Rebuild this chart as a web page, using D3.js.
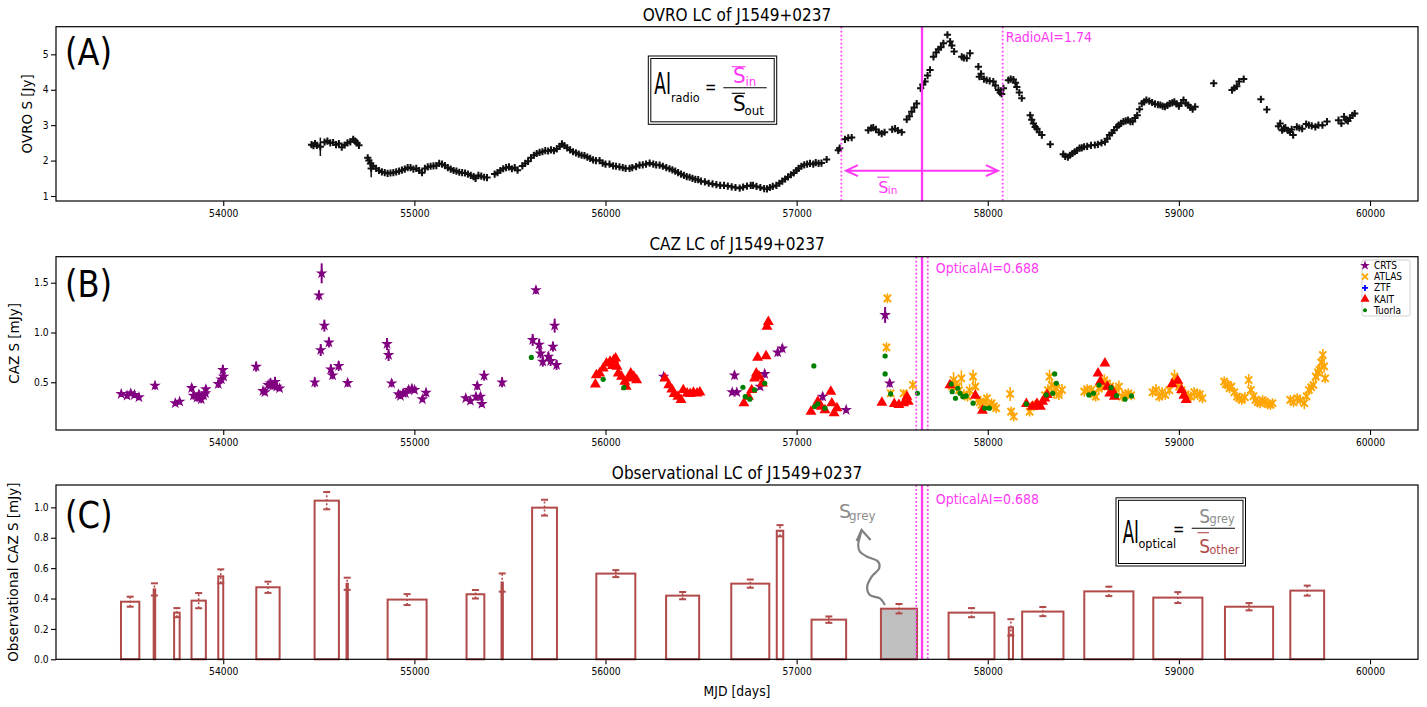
<!DOCTYPE html>
<html>
<head>
<meta charset="utf-8">
<script src="https://cdn.jsdelivr.net/npm/d3@7"></script>
<style>
  body { margin: 0; background: #fff; }
  text { font-family: "DejaVu Sans", sans-serif; }
</style>
</head>
<body>
<svg id="fig" width="1427" height="707"></svg>
<script>
// ---- data ----
// OVRO 15 GHz light curve: [MJD, S (Jy), err]
const ovro = [
 [54462,2.45,.05],[54472,2.42,.05],[54480,2.48,.05],[54490,2.43,.05],[54508,2.39,.26],[54530,2.52,.05],[54545,2.55,.05],[54560,2.5,.05],
 [54575,2.51,.05],[54590,2.45,.05],[54605,2.48,.05],[54620,2.38,.05],[54635,2.44,.05],[54650,2.5,.05],[54665,2.53,.05],[54680,2.6,.06],
 [54690,2.55,.05],[54700,2.5,.05],[54710,2.43,.05],
 [54756,2.08,.05],[54762,2.0,.05],[54770,1.92,.05],[54774,1.78,.25],[54785,1.85,.05],[54800,1.78,.05],[54815,1.72,.05],[54830,1.68,.05],
 [54845,1.66,.05],[54860,1.64,.05],[54875,1.65,.05],[54890,1.66,.05],[54905,1.68,.05],[54920,1.7,.05],[54935,1.73,.05],[54950,1.76,.05],
 [54965,1.8,.05],[54980,1.8,.05],[54995,1.76,.05],[55010,1.78,.05],[55025,1.72,.05],[55040,1.66,.06],[55055,1.78,.05],[55070,1.82,.05],
 [55085,1.84,.05],[55100,1.85,.05],[55115,1.86,.05],[55130,1.92,.05],[55145,1.9,.05],[55160,1.86,.05],[55175,1.8,.05],[55190,1.76,.05],
 [55205,1.72,.05],[55220,1.7,.05],[55235,1.67,.05],[55250,1.66,.05],[55265,1.65,.05],[55280,1.62,.05],[55295,1.58,.05],[55310,1.55,.05],
 [55320,1.5,.08],[55335,1.58,.05],[55350,1.56,.05],[55365,1.53,.05],[55380,1.52,.05],
 [55420,1.62,.05],[55435,1.66,.05],[55450,1.72,.05],[55465,1.77,.05],[55480,1.8,.05],[55495,1.82,.05],[55510,1.77,.05],[55525,1.8,.05],[55540,1.73,.05],
 [55565,1.85,.05],[55580,1.92,.05],[55595,1.98,.05],[55610,2.08,.05],[55625,2.15,.05],[55640,2.2,.05],[55655,2.23,.05],[55670,2.25,.05],
 [55685,2.28,.05],[55700,2.27,.05],[55715,2.3,.05],[55730,2.28,.05],[55745,2.33,.05],[55760,2.4,.05],[55772,2.47,.05],[55785,2.42,.05],
 [55800,2.36,.05],[55815,2.3,.05],[55830,2.25,.05],[55845,2.22,.05],[55860,2.18,.05],[55875,2.15,.05],[55890,2.14,.05],[55905,2.1,.05],
 [55920,2.06,.05],[55935,2.02,.05],[55950,2.0,.05],[55969,2.0,.05],[55985,1.93,.05],[56000,1.9,.05],[56021,1.9,.05],[56040,1.85,.05],
 [56055,1.84,.05],[56073,1.82,.05],[56090,1.8,.05],[56105,1.78,.05],[56126,1.78,.05],[56140,1.8,.05],[56160,1.83,.05],[56178,1.87,.05],
 [56195,1.88,.05],[56212,1.9,.05],[56231,1.93,.05],[56250,1.9,.05],[56265,1.88,.05],[56283,1.87,.05],[56300,1.84,.05],[56318,1.8,.05],
 [56335,1.77,.05],[56350,1.74,.05],[56365,1.7,.05],[56380,1.66,.05],[56395,1.62,.05],[56410,1.58,.05],[56425,1.55,.05],[56440,1.53,.05],
 [56455,1.5,.05],[56470,1.47,.05],[56485,1.46,.05],[56500,1.42,.05],[56520,1.4,.05],[56540,1.36,.05],[56560,1.34,.05],[56580,1.32,.05],
 [56600,1.3,.05],[56620,1.3,.05],[56640,1.28,.05],[56660,1.26,.05],[56680,1.24,.05],[56702,1.22,.05],[56720,1.25,.05],[56740,1.28,.05],
 [56760,1.3,.05],[56772,1.3,.05],[56790,1.27,.05],[56810,1.24,.05],[56830,1.21,.05],[56845,1.2,.05],[56860,1.24,.05],[56875,1.27,.05],
 [56894,1.3,.05],[56910,1.36,.05],[56925,1.42,.05],[56940,1.48,.05],[56955,1.54,.05],[56970,1.6,.05],[56985,1.65,.05],[56999,1.72,.05],
 [57010,1.78,.05],[57025,1.84,.05],[57040,1.88,.05],[57055,1.9,.05],[57070,1.92,.05],[57087,1.9,.05],[57100,1.94,.05],[57115,1.92,.05],
 [57130,1.93,.05],[57157,2.03,.05],[57218,2.29,.05],[57225,2.35,.05],[57253,2.6,.05],[57270,2.64,.05],[57288,2.65,.05],
 [57375,2.86,.05],[57390,2.92,.05],[57401,2.93,.05],[57415,2.88,.05],[57430,2.8,.05],[57445,2.76,.05],[57460,2.8,.05],
 [57500,2.88,.05],[57515,2.9,.05],[57530,2.85,.05],[57550,2.8,.05],[57576,3.16,.05],[57590,3.25,.05],[57602,3.38,.05],[57615,3.5,.05],
 [57628,3.61,.05],[57649,4.04,.05],[57660,4.15,.05],[57672,4.23,.05],[57685,4.4,.05],[57698,4.56,.05],[57716,4.93,.05],[57730,5.05,.05],
 [57742,5.14,.05],[57755,5.2,.05],[57768,5.31,.05],[57789,5.55,.05],[57803,5.36,.05],[57812,5.25,.05],[57824,5.08,.05],[57864,4.93,.05],
 [57875,4.9,.05],[57890,4.89,.05],[57907,5.03,.05],[57951,4.65,.05],[57956,4.37,.05],[57965,4.45,.05],[57980,4.3,.05],[57994,4.27,.05],
 [58010,4.25,.05],[58029,4.23,.05],[58040,4.12,.05],[58056,3.99,.05],[58065,3.92,.05],[58073,3.88,.05],[58082,4.04,.05],[58108,4.27,.05],
 [58120,4.3,.05],[58134,4.29,.05],[58145,4.2,.05],[58152,4.08,.05],[58165,3.92,.05],[58178,3.76,.05],[58222,3.28,.05],[58230,3.15,.05],
 [58239,3.05,.05],[58248,2.95,.05],[58257,2.9,.05],[58270,2.8,.05],[58283,2.72,.05],[58327,2.46,.05],
 [58395,2.18,.05],[58405,2.12,.05],[58419,2.1,.05],[58430,2.15,.05],[58443,2.2,.05],[58455,2.25,.05],[58467,2.29,.05],[58480,2.35,.05],
 [58492,2.36,.05],[58504,2.39,.05],[58520,2.4,.05],[58540,2.43,.05],[58560,2.44,.05],[58576,2.46,.05],[58595,2.5,.05],[58613,2.53,.05],
 [58625,2.62,.05],[58637,2.72,.05],[58650,2.78,.05],[58661,2.86,.05],[58675,2.95,.05],[58685,3.0,.05],[58697,3.05,.05],[58710,3.1,.05],
 [58722,3.12,.05],[58734,3.14,.05],[58746,3.1,.05],[58758,3.1,.05],[58770,3.2,.05],[58782,3.28,.05],[58794,3.45,.05],[58806,3.61,.05],
 [58818,3.66,.05],[58830,3.71,.05],[58845,3.68,.05],[58860,3.64,.05],[58875,3.6,.05],[58890,3.58,.05],[58903,3.57,.08],[58915,3.54,.05],
 [58927,3.52,.05],[58940,3.56,.05],[58952,3.61,.05],[58965,3.63,.05],[58976,3.66,.05],[58988,3.6,.05],[59000,3.54,.05],[59012,3.62,.05],
 [59024,3.71,.05],[59036,3.62,.05],[59048,3.57,.05],[59060,3.5,.05],[59072,3.45,.05],[59085,3.52,.05],
 [59182,4.18,.06],[59278,3.99,.06],[59290,4.05,.05],[59303,4.1,.1],[59315,4.23,.05],[59339,4.3,.06],[59429,3.73,.06],[59460,3.44,.06],
 [59521,2.97,.05],[59530,3.05,.05],[59540,2.86,.05],[59550,2.9,.05],[59557,2.93,.05],[59570,2.85,.05],[59581,2.81,.05],[59590,2.88,.05],
 [59598,2.72,.08],[59617,2.95,.05],[59630,2.92,.05],[59645,2.9,.05],[59666,3.03,.05],[59680,3.0,.05],[59695,2.98,.05],[59714,2.95,.05],
 [59730,3.0,.05],[59751,3.0,.05],[59775,3.1,.06],[59835,3.14,.05],[59850,3.05,.05],[59864,3.24,.05],[59875,3.15,.05],[59884,3.12,.05],
 [59895,3.2,.05],[59908,3.28,.05],[59920,3.33,.05]
];

// optical light curves: [MJD, S (mJy), err]
const crts = [
 [53466,.383,.03],[53497,.366,.03],[53516,.39,.03],[53535,.373,.03],[53559,.35,.03],[53643,.467,.04],[53749,.29,.03],[53772,.306,.03],
 [53835,.443,.04],[53844,.366,.04],[53863,.346,.04],[53873,.38,.04],[53885,.33,.04],[53897,.366,.04],[53907,.39,.03],[53909,.43,.04],
 [53974,.483,.04],[53990,.53,.04],[53998,.624,.05],[54002,.557,.04],[54172,.657,.05],[54208,.413,.03],[54218,.4,.03],[54235,.473,.04],
 [54247,.49,.05],[54259,.467,.04],[54271,.503,.05],[54280,.457,.04],[54295,.44,.03],[54479,.5,.05],[54501,1.373,.05],[54510,.824,.06],
 [54515,1.594,.1],[54529,1.069,.06],[54553,.9,.05],[54563,.63,.05],[54572,.57,.04],[54604,.664,.05],[54651,.493,.04],[54857,.885,.06],
 [54865,.774,.06],[54881,.49,.04],[54917,.38,.04],[54927,.363,.03],[54941,.39,.04],[54953,.39,.03],[54970,.423,.04],[54987,.436,.04],
 [55001,.423,.03],[55042,.33,.03],[55061,.396,.04],[55269,.34,.03],[55293,.313,.03],[55322,.356,.04],[55329,.463,.04],[55346,.356,.04],
 [55353,.283,.03],[55365,.567,.05],[55459,.5,.05],[55619,.925,.06],[55636,1.426,.04],[55653,.878,.06],[55660,.79,.05],[55672,.707,.05],
 [55701,.757,.05],[55713,.714,.05],[55725,.858,.05],[55734,1.069,.07],[55744,.674,.05],[56304,.557,.03],[56663,.4,.03],[56675,.57,.04],
 [56687,.4,.03],[56809,.457,.03],[56833,.584,.04],[56901,.8,.04],[56925,.84,.04],[57136,.356,.04],[57259,.222,.03],[57463,1.176,.08],
 [57487,.49,.04]
];
const atlas = [
 [57470,.851,.05],[57475,1.343,.05],[57492,.39,.04],[57560,.39,.04],[57608,.473,.05],
 [57812,.46,.06],[57821,.523,.08],[57830,.48,.06],[57838,.457,.06],[57850,.42,.06],[57862,.54,.08],[57875,.38,.05],[57894,.356,.05],
 [57905,.42,.06],[57923,.557,.07],[57935,.457,.06],[57947,.323,.05],[57958,.3,.05],[57967,.273,.05],[57980,.3,.05],[57996,.34,.05],
 [58008,.27,.05],[58020,.29,.05],[58032,.26,.05],[58044,.24,.05],[58117,.383,.07],[58122,.206,.05],[58136,.156,.05],
 [58219,.206,.05],[58240,.26,.05],[58262,.28,.05],[58300,.37,.05],[58315,.42,.06],[58323,.557,.07],[58335,.473,.06],[58347,.396,.06],
 [58359,.44,.06],[58372,.373,.05],[58388,.423,.06],
 [58505,.406,.05],[58520,.43,.05],[58541,.423,.05],[58555,.38,.05],[58565,.356,.05],[58580,.44,.06],[58597,.457,.06],[58610,.52,.06],
 [58621,.49,.06],[58640,.46,.06],[58655,.43,.05],[58670,.4,.05],[58686,.457,.06],[58703,.356,.05],[58720,.38,.05],[58735,.39,.05],[58750,.37,.05],
 [58862,.40,.05],[58880,.423,.06],[58897,.356,.05],[58912,.4,.05],[58929,.373,.05],[58950,.42,.05],[58977,.557,.07],[58990,.5,.06],
 [59001,.457,.06],[59015,.42,.05],[59035,.38,.05],[59048,.36,.05],[59062,.356,.05],[59080,.4,.05],[59098,.373,.05],[59110,.38,.05],[59123,.34,.05],
 [59237,.507,.05],[59245,.48,.05],[59256,.473,.05],[59265,.44,.05],[59275,.457,.05],[59290,.4,.05],[59304,.356,.05],[59316,.34,.05],
 [59329,.323,.05],[59345,.35,.05],[59365,.523,.06],[59377,.423,.05],[59390,.36,.05],[59401,.323,.05],[59413,.3,.05],[59425,.29,.05],
 [59438,.32,.05],[59450,.306,.05],[59465,.28,.05],[59479,.273,.05],[59490,.29,.05],
 [59583,.323,.05],[59600,.3,.05],[59619,.34,.05],[59635,.32,.05],[59656,.29,.06],[59668,.36,.05],[59680,.423,.05],[59692,.45,.05],
 [59704,.473,.05],[59716,.557,.06],[59728,.6,.06],[59736,.624,.06],[59745,.7,.06],[59753,.774,.06],[59760,.66,.06],[59765,.54,.05]
];
const ztf = [];
const kait = [
 [55947,.48],[55952,.573],[55969,.59],[55988,.64],[56005,.69],[56024,.707],[56036,.664],[56043,.724],[56053,.74],[56060,.657],
 [56067,.59],[56084,.557],[56101,.507],[56108,.457],[56120,.54],[56132,.59],[56148,.557],[56163,.523],
 [56311,.54],[56331,.473],[56347,.43],[56359,.383],[56379,.356],[56395,.323],[56407,.423],[56427,.39],[56443,.383],[56460,.396],
 [56479,.39],[56494,.4],
 [56724,.29],[56748,.356],[56765,.423],[56780,.54],[56789,.59],[56796,.747],[56804,.557],[56821,.49],[56840,.764],[56845,1.06],[56852,1.108],
 [57075,.206],[57111,.306],[57128,.256],[57148,.222],[57179,.406],[57184,.29],[57196,.19],[57211,.24],
 [57446,.296],[57511,.283],[57535,.273],[57560,.29],[57577,.356],[57584,.306],
 [57802,.473],[57935,.366],[57972,.216],
 [58202,.283],[58233,.256],[58257,.283],[58275,.256],[58287,.306],[58299,.34],[58311,.373],
 [58577,.59],[58589,.507],[58613,.69],[58626,.457],[58638,.39],[58650,.423],[58662,.356],
 [58965,.483],[58994,.517],[59014,.423],[59026,.366],[59038,.323]
];
const tuorla = [
 [55612,.75],[55988,.53],[56096,.446],
 [56719,.45],[56731,.356],[56755,.33],[56780,.423],[56833,.49],
 [57090,.664],[57094,.256],[57111,.283],[57148,.24],[57463,.764],[57463,.584],[57492,.383],[57632,.39],
 [57809,.483],[57814,.406],[57831,.34],[57843,.44],[57855,.39],[57870,.356],[57887,.363],[57923,.29],[57984,.24],[58008,.24],
 [58202,.283],[58306,.373],[58340,.39],[58350,.584],[58359,.49],
 [58529,.373],[58553,.39],[58582,.473],[58645,.446],[58674,.366],[58718,.33],[58752,.363]
];

// observational (binned) light curve
const binStart = [53465,53636,53743,53834,53974,54173,54478,54645,54860,55273,55456,55616,55952,56317,56658,56896,57078,57441,57795,58110,58180,58505,58866,59241,59583];
const binEnd   = [53561,53644,53772,53909,54000,54295,54605,54652,55064,55366,55463,55746,56156,56490,56857,56930,57259,57630,58035,58132,58396,58762,59123,59493,59760];
const binFlux  = [.379,.46,.307,.386,.546,.474,1.044,.497,.393,.428,.505,.998,.564,.419,.498,.846,.261,.333,.307,.21,.314,.447,.406,.346,.452];
const binErr   = [.033,.04,.03,.05,.046,.037,.057,.04,.036,.028,.06,.052,.023,.024,.027,.037,.021,.031,.03,.054,.03,.031,.036,.024,.033];
const greyBin = 17;

const peakMJD = 57656, radioHalf = 422, opticalHalf = 30;
const radioAI = "1.74", opticalAI = "0.688";
// wavy grey arrow in panel C, [MJD, mJy]
const greyArrow = [[57462,.357],[57436,.401],[57383,.423],[57369,.478],[57392,.543],[57432,.599],[57427,.642],[57369,.675],[57331,.708],[57322,.752],[57331,.807],[57340,.851]];
const sinArrow = {from: 57258, to: 58053, y: 1.715};

const xTicks = [54000,55000,56000,57000,58000,59000,60000];
const ticksA = [1,2,3,4,5];
const ticksB = [0.5,1.0,1.5];
const ticksC = [0,0.2,0.4,0.6,0.8,1.0];

// ---- layout ----
const left = 56, right = 1418;
const magenta = "#ff38f5", barCol = "#b24a4a", greyTxt = "#8c8c8c";
const mathFont = "Open Sans";
const svg = d3.select("#fig");
const x = d3.scaleLinear().domain([53125, 60251]).range([left, right]);

const pA = {top: 26.7, bottom: 201, y: d3.scaleLinear().domain([0.859, 5.78]).range([201, 26.7])};
const pB = {top: 256.7, bottom: 430, y: d3.scaleLinear().domain([0.021, 1.761]).range([430, 256.7])};
const pC = {top: 485, bottom: 659.3, y: d3.scaleLinear().domain([0, 1.147]).range([659.3, 485])};

function stext(g, str, tx, ty, size, sx, opt) {
  opt = opt || {};
  return g.append("text")
    .attr("transform", `translate(${tx},${ty}) scale(${sx},1)`)
    .attr("font-size", size)
    .attr("text-anchor", opt.anchor || "start")
    .attr("fill", opt.fill || "#000")
    .attr("font-family", opt.family || null)
    .text(str);
}

function axes(p, ticks, fmt, title, titleY, letter, letterDy, ylabel, ylabelX) {
  const gx = svg.append("g").attr("transform", `translate(0,${p.bottom})`)
    .attr("font-size", 13.5).attr("font-family", "DejaVu Sans")
    .call(d3.axisBottom(x).tickValues(xTicks).tickSize(5).tickPadding(4).tickFormat(d3.format("d")));
  const gy = svg.append("g").attr("transform", `translate(${left},0)`)
    .attr("font-size", 13.5).attr("font-family", "DejaVu Sans")
    .call(d3.axisLeft(p.y).tickValues(ticks).tickSize(5).tickPadding(3).tickFormat(fmt));
  [gx, gy].forEach(g => {
    g.select(".domain").remove();
    g.selectAll(".tick line").attr("stroke", "#000").attr("stroke-width", 1.1);
    g.selectAll(".tick text").attr("fill", "#000").attr("transform", "scale(0.92,1)");
  });
  stext(svg, title, (left + right) / 2, titleY, 17, 0.9, {anchor: "middle"});
  stext(svg, letter, 65, p.top + letterDy, 37, 0.87);
  svg.append("text")
    .attr("transform", `translate(${ylabelX},${(p.top + p.bottom) / 2}) rotate(-90)`)
    .attr("text-anchor", "middle").attr("font-size", 13.5).text(ylabel);
}

function frame(p) {
  svg.append("rect").attr("x", left).attr("y", p.top)
    .attr("width", right - left).attr("height", p.bottom - p.top)
    .attr("fill", "none").attr("stroke", "#000").attr("stroke-width", 1.2);
}

function vlines(p, half) {
  [peakMJD - half, peakMJD + half].forEach(m => {
    svg.append("line").attr("x1", x(m)).attr("x2", x(m)).attr("y1", p.top).attr("y2", p.bottom)
      .attr("stroke", magenta).attr("stroke-width", 1.7).attr("stroke-dasharray", "1.7,2.3");
  });
  svg.append("line").attr("x1", x(peakMJD)).attr("x2", x(peakMJD)).attr("y1", p.top).attr("y2", p.bottom)
    .attr("stroke", magenta).attr("stroke-width", 2.3);
}

function errbars(g, data, y, color, w) {
  g.selectAll(null).data(data).enter().append("line")
    .attr("x1", d => x(d[0])).attr("x2", d => x(d[0]))
    .attr("y1", d => y(d[1] - d[2])).attr("y2", d => y(d[1] + d[2]))
    .attr("stroke", color).attr("stroke-width", w);
}

function dbox(x0, y0, w, h) {
  svg.append("rect").attr("x", x0).attr("y", y0).attr("width", w).attr("height", h)
    .attr("fill", "#fff").attr("stroke", "#000").attr("stroke-width", 1);
  svg.append("rect").attr("x", x0 + 2.5).attr("y", y0 + 2.5).attr("width", w - 5).attr("height", h - 5)
    .attr("fill", "none").attr("stroke", "#000").attr("stroke-width", 1);
}

function hline(x1, x2, y, color) {
  svg.append("line").attr("x1", x1).attr("x2", x2).attr("y1", y).attr("y2", y)
    .attr("stroke", color).attr("stroke-width", 1.1);
}

// ---- panel A ----
axes(pA, ticksA, d3.format("d"), "OVRO LC of J1549+0237", 20.5, "(A)", 38.5, "OVRO S [Jy]", 31.5);
const gA = svg.append("g");
errbars(gA, ovro, pA.y, "#111", 1.5);
gA.selectAll(null).data(ovro).enter().append("path")
  .attr("transform", d => `translate(${x(d[0])},${pA.y(d[1])})`)
  .attr("d", "M-3.6,0H3.6M0,-3.6V3.6")
  .attr("stroke", "#111").attr("stroke-width", 2).attr("fill", "none");
vlines(pA, radioHalf);
stext(svg, "RadioAI=" + radioAI, x(peakMJD + radioHalf) + 3, pA.top + 15, 14, 0.9, {fill: magenta});

// double-headed arrow for mean S_in
{
  const ya = pA.y(sinArrow.y), x1 = x(sinArrow.from), x2 = x(sinArrow.to);
  svg.append("path")
    .attr("d", `M${x1},${ya}H${x2}M${x1 + 12},${ya - 5.5}L${x1},${ya}L${x1 + 12},${ya + 5.5}M${x2 - 12},${ya - 5.5}L${x2},${ya}L${x2 - 12},${ya + 5.5}`)
    .attr("stroke", magenta).attr("stroke-width", 2).attr("fill", "none");
  const sx = x(57427), sy = pA.y(1.093);
  stext(svg, "S", sx, sy, 16, 1, {fill: magenta, family: mathFont});
  stext(svg, "in", sx + 9.5, sy + 1.7, 11, 0.95, {fill: magenta, family: mathFont});
  hline(sx - 1, sx + 11, sy - 15.5, magenta);
}

// formula box A
dbox(648.3, 56, 128.4, 68.3);
stext(svg, "AI", 654.3, 94, 31, 0.55, {family: mathFont});
stext(svg, "radio", 671, 101.7, 12.5, 0.9, {family: mathFont});
stext(svg, "=", 705, 92.5, 17, 0.8, {family: mathFont});
hline(723.3, 766.7, 87.7, "#000");
stext(svg, "S", 733, 83.3, 21, 0.95, {fill: magenta, family: mathFont});
stext(svg, "in", 745.5, 85.5, 12.5, 0.95, {fill: magenta, family: mathFont});
hline(731.7, 745.5, 66.7, magenta);
stext(svg, "S", 733, 111, 21, 0.95, {family: mathFont});
stext(svg, "out", 744.5, 114.5, 12.5, 0.95, {family: mathFont});
hline(731.7, 745, 93.3, "#000");
frame(pA);

// ---- panel B ----
axes(pB, ticksB, d3.format(".1f"), "CAZ LC of J1549+0237", 249.5, "(B)", 40, "CAZ S [mJy]", 19);
const gB = svg.append("g");
const star = d3.symbol(d3.symbolStar, 42)();
const tri = d3.symbol(d3.symbolTriangle, 52)();
const xMark = "M-3.6,-3.6L3.6,3.6M-3.6,3.6L3.6,-3.6";
const plusMark = "M-3.6,0H3.6M0,-3.6V3.6";
errbars(gB, crts, pB.y, "#800080", 2);
gB.selectAll(null).data(crts).enter().append("path")
  .attr("transform", d => `translate(${x(d[0])},${pB.y(d[1])})`).attr("d", star).attr("fill", "#800080");
errbars(gB, atlas, pB.y, "#ffa500", 1.6);
gB.selectAll(null).data(atlas).enter().append("path")
  .attr("transform", d => `translate(${x(d[0])},${pB.y(d[1])})`).attr("d", xMark)
  .attr("stroke", "#ffa500").attr("stroke-width", 2).attr("fill", "none");
gB.selectAll(null).data(ztf).enter().append("path")
  .attr("transform", d => `translate(${x(d[0])},${pB.y(d[1])})`).attr("d", plusMark)
  .attr("stroke", "#0000ff").attr("stroke-width", 2);
gB.selectAll(null).data(kait).enter().append("path")
  .attr("transform", d => `translate(${x(d[0])},${pB.y(d[1])})`).attr("d", tri).attr("fill", "#ff0000");
gB.selectAll(null).data(tuorla).enter().append("circle")
  .attr("cx", d => x(d[0])).attr("cy", d => pB.y(d[1])).attr("r", 2.6).attr("fill", "#008000");
vlines(pB, opticalHalf);
stext(svg, "OpticalAI=" + opticalAI, x(peakMJD + opticalHalf) + 8, pB.top + 16.5, 14, 0.9, {fill: magenta});

// legend
{
  const lg = svg.append("g");
  lg.append("rect").attr("x", 1362).attr("y", 260).attr("width", 48).attr("height", 56).attr("rx", 2)
    .attr("fill", "#fff").attr("fill-opacity", 0.8).attr("stroke", "#d0d0d0");
  const items = [
    {name: "CRTS", draw: g => g.append("path").attr("d", d3.symbol(d3.symbolStar, 30)()).attr("fill", "#800080")},
    {name: "ATLAS", draw: g => g.append("path").attr("d", "M-3,-3L3,3M-3,3L3,-3").attr("stroke", "#ffa500").attr("stroke-width", 1.8)},
    {name: "ZTF", draw: g => g.append("path").attr("d", "M-3,0H3M0,-3V3").attr("stroke", "#0000ff").attr("stroke-width", 1.8)},
    {name: "KAIT", draw: g => g.append("path").attr("d", d3.symbol(d3.symbolTriangle, 36)()).attr("fill", "#ff0000")},
    {name: "Tuorla", draw: g => g.append("circle").attr("r", 2).attr("fill", "#008000")}
  ];
  items.forEach((it, i) => {
    const cy = 265.5 + i * 11.2;
    it.draw(lg.append("g").attr("transform", `translate(1365,${cy})`));
    stext(lg, it.name, 1374, cy + 3.5, 10, 0.9);
  });
}
frame(pB);

// ---- panel C ----
axes(pC, ticksC, d3.format(".1f"), "Observational LC of J1549+0237", 479, "(C)", 43, "Observational CAZ S [mJy]", 18);
const gC = svg.append("g");
gC.selectAll(null).data(binFlux).enter().append("rect")
  .attr("x", (d, i) => x(binStart[i])).attr("width", (d, i) => x(binEnd[i]) - x(binStart[i]))
  .attr("y", d => pC.y(d)).attr("height", d => pC.y(0) - pC.y(d))
  .attr("fill", (d, i) => i === greyBin ? "#c0c0c0" : "none")
  .attr("stroke", barCol).attr("stroke-width", 2);
const mid = i => x((binStart[i] + binEnd[i]) / 2);
gC.selectAll(null).data(binFlux).enter().append("line")
  .attr("x1", (d, i) => mid(i)).attr("x2", (d, i) => mid(i))
  .attr("y1", (d, i) => pC.y(d - binErr[i])).attr("y2", (d, i) => pC.y(d + binErr[i]))
  .attr("stroke", barCol).attr("stroke-width", 1.6).attr("stroke-dasharray", "2,2");
[-1, 1].forEach(s => {
  gC.selectAll(null).data(binFlux).enter().append("line")
    .attr("x1", (d, i) => mid(i) - 3.5).attr("x2", (d, i) => mid(i) + 3.5)
    .attr("y1", (d, i) => pC.y(d + s * binErr[i])).attr("y2", (d, i) => pC.y(d + s * binErr[i]))
    .attr("stroke", barCol).attr("stroke-width", 2);
});
vlines(pC, opticalHalf);
stext(svg, "OpticalAI=" + opticalAI, x(peakMJD + opticalHalf) + 8, pC.top + 19, 14, 0.9, {fill: magenta});

// wavy grey arrow and S_grey label
{
  const pts = greyArrow.map(d => [x(d[0]), pC.y(d[1])]);
  svg.append("path").attr("d", d3.line().curve(d3.curveCatmullRom)(pts))
    .attr("stroke", "#808080").attr("stroke-width", 2.2).attr("fill", "none");
  const tip = pts[pts.length - 1];
  svg.append("path")
    .attr("d", `M${tip[0] - 5},${tip[1] + 11}L${tip[0]},${tip[1]}L${tip[0] + 9},${tip[1] + 10}`)
    .attr("stroke", "#808080").attr("stroke-width", 2.2).attr("fill", "none");
  const lx = x(57222), ly = pC.y(0.927);
  stext(svg, "S", lx, ly, 19, 1, {fill: greyTxt, family: mathFont});
  stext(svg, "grey", lx + 10, ly + 2, 12.5, 0.95, {fill: greyTxt, family: mathFont});
}

// formula box C
dbox(1116, 497.8, 129.5, 68.2);
stext(svg, "AI", 1122.7, 542.5, 32, 0.52, {family: mathFont});
stext(svg, "optical", 1138.5, 548.3, 12.5, 0.9, {family: mathFont});
stext(svg, "=", 1173, 535, 17, 0.8, {family: mathFont});
hline(1191.7, 1235, 528.3, "#000");
stext(svg, "S", 1199.3, 523.3, 19, 0.9, {fill: greyTxt, family: mathFont});
stext(svg, "grey", 1209.5, 523.3, 12.5, 0.9, {fill: greyTxt, family: mathFont});
stext(svg, "S", 1199.3, 553.3, 19, 0.9, {fill: barCol, family: mathFont});
stext(svg, "other", 1209.5, 554, 12.5, 0.9, {fill: barCol, family: mathFont});
hline(1197.5, 1209, 532.7, barCol);
frame(pC);

stext(svg, "MJD [days]", (left + right) / 2, 696, 13.5, 0.92, {anchor: "middle"});
</script>
</body>
</html>
